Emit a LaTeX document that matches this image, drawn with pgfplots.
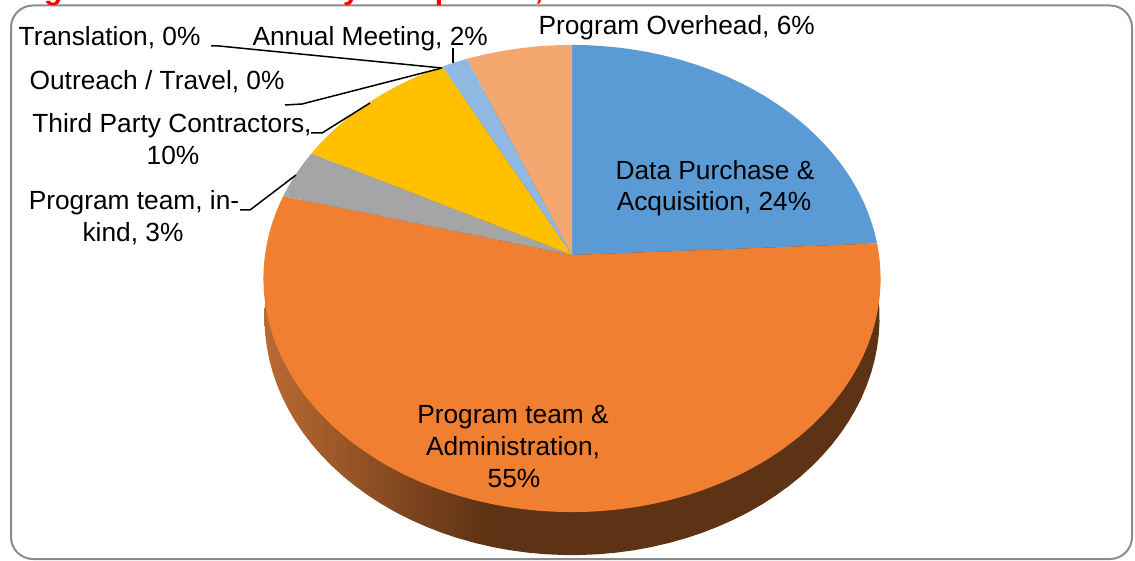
\documentclass[border=0pt]{standalone}
\usepackage{pgfplots}
\pgfplotsset{compat=1.18}
\usepackage{fontspec}
\setmainfont{Liberation Sans}

\definecolor{cDP}{HTML}{5B9BD5}
\definecolor{cPA}{HTML}{F07F32}
\definecolor{cPK}{HTML}{A5A5A5}
\definecolor{cTP}{HTML}{FFC000}
\definecolor{cAM}{HTML}{8FB9E3}
\definecolor{cPO}{HTML}{F4A870}
\definecolor{sideL}{HTML}{BA6A32}
\definecolor{sideD}{HTML}{5E3214}
\definecolor{frame}{HTML}{8C8C8C}
\pgfdeclarehorizontalshading{sideshade}{100bp}{color(0bp)=(sideL); color(25bp)=(sideL); color(43bp)=(sideD); color(100bp)=(sideD)}

% data (percent of total)
\def\vDP{24.2}  % Data Purchase & Acquisition
\def\vPA{55.0}  % Program team & Administration
\def\vPK{3.4}   % Program team, in-kind
\def\vTP{9.8}   % Third Party Contractors
\def\vOT{0}     % Outreach / Travel
\def\vTR{0}     % Translation
\def\vAM{1.5}   % Annual Meeting
\def\vPO{6.1}   % Program Overhead

\pgfmathsetmacro\aA{0}
\pgfmathsetmacro\aB{\aA+3.6*\vDP}
\pgfmathsetmacro\aC{\aB+3.6*\vPA}
\pgfmathsetmacro\aD{\aC+3.6*\vPK}
\pgfmathsetmacro\aE{\aD+3.6*\vTP}
\pgfmathsetmacro\aF{\aE+3.6*\vOT}
\pgfmathsetmacro\aG{\aF+3.6*\vTR}
\pgfmathsetmacro\aH{\aG+3.6*\vAM}
\pgfmathsetmacro\aI{\aH+3.6*\vPO}

\newcommand\lab{\fontsize{26.3}{32}\selectfont}

\begin{document}
\begin{tikzpicture}
\begin{axis}[
  width=1135pt, height=560pt, scale only axis,
  xmin=0, xmax=1135, ymin=0, ymax=560,
  enlargelimits=false, hide axis, clip=false]

% side of the pie
\addplot[draw=none, shade, shading=sideshade, domain=0:360, samples=120]
  ({572+306*sin(x)/(1+0.1007*cos(x))},{305+(231.2*cos(x)-38.7)/(1+0.1007*cos(x))}) -- cycle;

% top face slices
\addplot[draw=none, fill=cDP, domain=\aA:\aB, samples=60]
  ({572+307*sin(x)/(1+0.1007*cos(x))},{305+231.2*cos(x)/(1+0.1007*cos(x))}) -- (axis cs:572,305) -- cycle;
\addplot[draw=none, fill=cPA, domain=\aB:\aC, samples=120]
  ({572+307*sin(x)/(1+0.1007*cos(x))},{305+231.2*cos(x)/(1+0.1007*cos(x))}) -- (axis cs:572,305) -- cycle;
\addplot[draw=none, fill=cPK, domain=\aC:\aD, samples=20]
  ({572+307*sin(x)/(1+0.1007*cos(x))},{305+231.2*cos(x)/(1+0.1007*cos(x))}) -- (axis cs:572,305) -- cycle;
\addplot[draw=none, fill=cTP, domain=\aD:\aE, samples=40]
  ({572+307*sin(x)/(1+0.1007*cos(x))},{305+231.2*cos(x)/(1+0.1007*cos(x))}) -- (axis cs:572,305) -- cycle;
\addplot[draw=none, fill=cAM, domain=\aG:\aH, samples=10]
  ({572+307*sin(x)/(1+0.1007*cos(x))},{305+231.2*cos(x)/(1+0.1007*cos(x))}) -- (axis cs:572,305) -- cycle;
\addplot[draw=none, fill=cPO, domain=\aH:\aI, samples=20]
  ({572+307*sin(x)/(1+0.1007*cos(x))},{305+231.2*cos(x)/(1+0.1007*cos(x))}) -- (axis cs:572,305) -- cycle;

% leader lines
\addplot[black, line width=1.5pt, mark=none] coordinates {(211,514) (219,514) (442,492)};
\addplot[black, line width=1.5pt, mark=none] coordinates {(285,455) (302,456) (442,492)};
\addplot[black, line width=1.5pt, mark=none] coordinates {(311,427) (322,427) (370,457)};
\addplot[black, line width=1.5pt, mark=none] coordinates {(240,350) (250,350) (296,385)};
\addplot[black, line width=1.5pt, mark=none] coordinates {(453,512) (453,497)};

% labels
\node[anchor=base east, font=\lab] at (axis cs:204,514) {Translation, 0\%};
\node[anchor=base west, font=\lab] at (axis cs:249,514) {Annual Meeting, 2\%};
\node[anchor=base west, font=\lab] at (axis cs:535,525) {Program Overhead, 6\%};
\node[anchor=base east, font=\lab] at (axis cs:288,470) {Outreach / Travel, 0\%};
\node[anchor=base, font=\lab] at (axis cs:172,427) {Third Party Contractors,};
\node[anchor=base, font=\lab] at (axis cs:173,395) {10\%};
\node[anchor=base, font=\lab] at (axis cs:134,350) {Program team, in-};
\node[anchor=base, font=\lab] at (axis cs:133,318) {kind, 3\%};
\node[anchor=base, font=\lab] at (axis cs:715,380) {Data Purchase \&};
\node[anchor=base, font=\lab] at (axis cs:714,349) {Acquisition, 24\%};
\node[anchor=base, font=\lab] at (axis cs:513,137) {Program team \&};
\node[anchor=base, font=\lab] at (axis cs:513,105) {Administration,};
\node[anchor=base, font=\lab] at (axis cs:514,73) {55\%};

% frame and (cut-off) title
\draw[frame, line width=2pt, rounded corners=22pt] (axis cs:11,1) rectangle (axis cs:1132,554.5);
\node[anchor=base west, text=red, font=\bfseries\fontsize{30}{34}\selectfont] at (axis cs:14,560.5) {Figure 2: Total Costs by Component, 2019};
\end{axis}
\pgfresetboundingbox
\path[use as bounding box] (0,0) rectangle (1135pt,560pt);
\end{tikzpicture}
\end{document}
